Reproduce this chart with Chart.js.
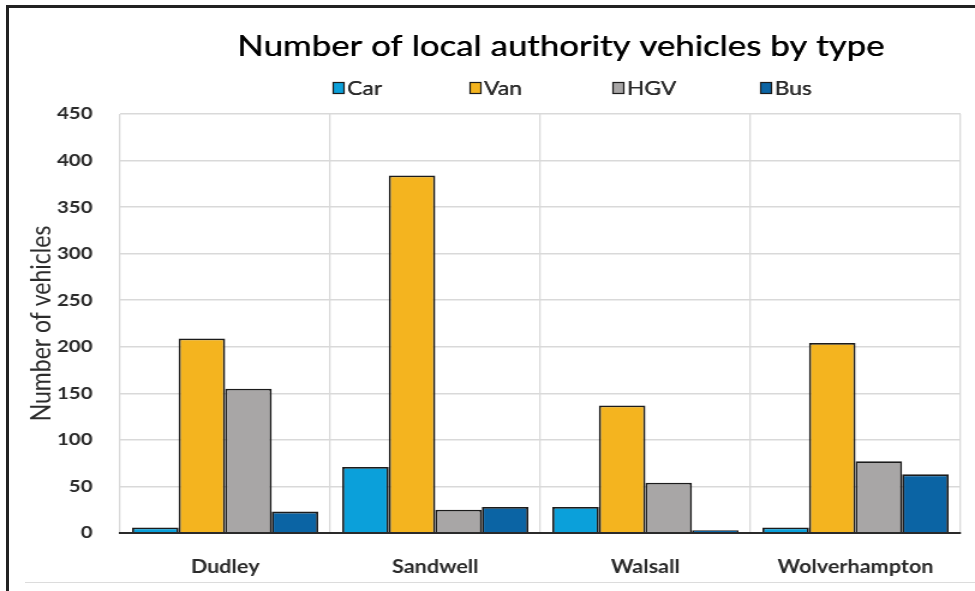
<!DOCTYPE html>
<html>
<head>
<meta charset="utf-8">
<script src="https://cdn.jsdelivr.net/npm/chart.js@4/dist/chart.umd.min.js"></script>
<style>
  html, body { margin: 0; padding: 0; background: #fff; overflow: hidden; }
  #wrap { position: absolute; left: 0; top: 0; width: 975px; height: 591px; }
  #stage { position: absolute; left: 0; top: 0; transform-origin: 0 0; }
  .frame { position: absolute; left: 6px; top: 5px; width: 980px; height: 600px;
           border-left: 3px solid #222; border-top: 3px solid #222; }
  .foot { position: absolute; left: 25px; top: 582px; width: 950px; height: 1px; background: #dcdcdc; }
</style>
</head>
<body>
<div id="wrap">
  <div class="frame"></div>
  <div class="foot"></div>
  <div id="stage"><canvas id="c" width="812" height="591"></canvas></div>
</div>
<script>
// the reference is stretched sideways, so the chart is drawn narrow and scaled out
const STRETCH = 975 / 812;
document.getElementById('stage').style.transform = `scaleX(${STRETCH})`;

const title = 'Number of local authority vehicles by type';
const categories = ['Dudley', 'Sandwell', 'Walsall', 'Wolverhampton'];
const car = [6, 71, 28, 6];
const van = [209, 384, 137, 204];
const hgv = [155, 25, 54, 77];
const bus = [23, 28, 3, 63];
const yTicks = [0, 50, 100, 150, 200, 250, 300, 350, 400, 450];

const colors = { Car: '#0ba0da', Van: '#f4b41f', HGV: '#a8a6a6', Bus: '#0b64a4' };
const FONT = 'Lato, "Open Sans", sans-serif';
const ink = '#2b2b2b';

const ds = (label, data) => ({
  label, data,
  backgroundColor: colors[label],
  borderColor: '#1b1b1b',
  borderWidth: 1.8,
});

// title + legend row drawn by hand so they sit where the reference has them
const header = {
  id: 'header',
  afterDraw(chart) {
    const ctx = chart.ctx;
    ctx.save();
    ctx.fillStyle = '#000';
    ctx.font = `29px ${FONT}`;
    ctx.textAlign = 'center'; ctx.textBaseline = 'middle';
    ctx.fillText(title, 467, 47);
    ctx.fillText(title, 467.3, 47);

    const xs = [277, 391, 510, 633];
    ctx.font = `19px ${FONT}`;
    ctx.textAlign = 'left';
    chart.data.datasets.forEach((d, i) => {
      ctx.fillStyle = d.backgroundColor;
      ctx.fillRect(xs[i], 82, 10, 12);
      ctx.strokeStyle = '#1b1b1b'; ctx.lineWidth = 1.2;
      ctx.strokeRect(xs[i] + 0.5, 82.5, 9, 11);
      ctx.fillStyle = ink;
      ctx.fillText(d.label, xs[i] + 12, 88.5);
      ctx.fillText(d.label, xs[i] + 12.3, 88.5);
    });
    ctx.restore();
  }
};

new Chart(document.getElementById('c'), {
  type: 'bar',
  data: { labels: categories, datasets: [ds('Car', car), ds('Van', van), ds('HGV', hgv), ds('Bus', bus)] },
  plugins: [header],
  options: {
    responsive: false, animation: false, devicePixelRatio: 1,
    datasets: { bar: { categoryPercentage: 0.886, barPercentage: 1 } },
    layout: { padding: { top: 114, right: 12, bottom: 0, left: 0 } },
    plugins: { legend: { display: false }, title: { display: false }, tooltip: { enabled: false } },
    scales: {
      x: {
        grid: { color: '#d9d9d9', lineWidth: 1.3, drawTicks: false, offset: true },
        border: { display: true, color: '#2a2a2a', width: 2 },
        ticks: { color: ink, font: { family: FONT, size: 18, weight: 'bold' }, padding: 23 },
        afterFit: s => { s.height = 58; },
      },
      y: {
        min: 0, max: 450,
        afterBuildTicks: s => { s.ticks = yTicks.map(v => ({ value: v })); },
        grid: { color: c => c.tick.value === 0 ? '#2a2a2a' : '#d9d9d9', lineWidth: c => c.tick.value === 0 ? 2 : 1.5, drawTicks: false },
        border: { display: false },
        ticks: { color: ink, font: { family: FONT, size: 17, weight: 'bold' }, padding: 23 },
        title: { display: true, text: 'Number of vehicles', color: ink, font: { family: FONT, size: 23 }, padding: { top: 21, bottom: 0 } },
        afterFit: s => { s.width = 100; },
      }
    }
  }
});
</script>
</body>
</html>
